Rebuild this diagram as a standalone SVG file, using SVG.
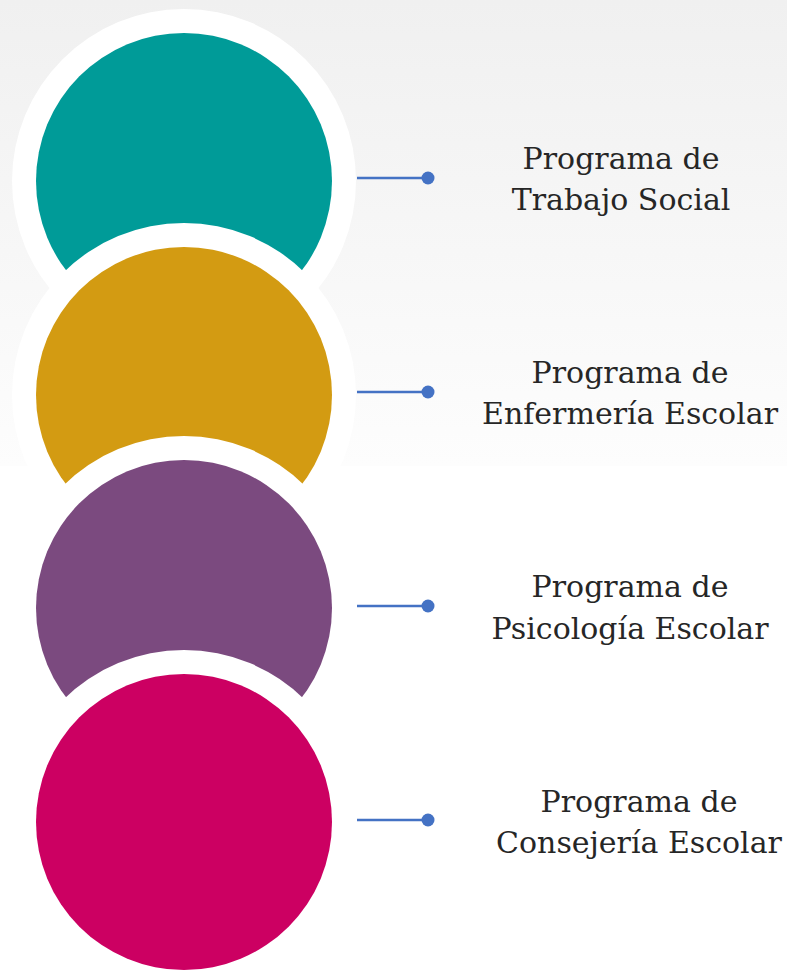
<svg xmlns="http://www.w3.org/2000/svg" width="787" height="971" viewBox="0 0 787 971">
  <defs>
    <linearGradient id="bg" x1="0" y1="0" x2="0" y2="1">
      <stop offset="0" stop-color="#f0f0f0"/>
      <stop offset="1" stop-color="#fdfdfd"/>
    </linearGradient>
    <style>
      .ring { fill: #ffffff; }
      .lbl { font-family: "DejaVu Serif", "Liberation Serif", serif; font-size: 30px; fill: #262626; text-anchor: middle; }
      .conn line { stroke: #4472c4; stroke-width: 2.5; }
      .conn circle { fill: #4472c4; }
    </style>
  </defs>
  <rect x="0" y="0" width="787" height="971" fill="#ffffff"/>
  <rect x="0" y="0" width="787" height="466" fill="url(#bg)"/>

  <g id="node-trabajo-social">
    <circle class="ring" cx="184" cy="181" r="172"/>
    <circle cx="184" cy="181" r="148" fill="#009b98"/>
  </g>
  <g id="node-enfermeria">
    <circle class="ring" cx="184" cy="395" r="172"/>
    <circle cx="184" cy="395" r="148" fill="#d39b12"/>
  </g>
  <g id="node-psicologia">
    <circle class="ring" cx="184" cy="608" r="172"/>
    <circle cx="184" cy="608" r="148" fill="#7b4a7f"/>
  </g>
  <g id="node-consejeria">
    <circle class="ring" cx="184" cy="822" r="172"/>
    <circle cx="184" cy="822" r="148" fill="#cc0062"/>
  </g>

  <g id="connectors" class="conn">
    <line x1="357" y1="178" x2="428" y2="178"/>
    <circle cx="428" cy="178" r="6.5"/>
    <line x1="357" y1="392" x2="428" y2="392"/>
    <circle cx="428" cy="392" r="6.5"/>
    <line x1="357" y1="606" x2="428" y2="606"/>
    <circle cx="428" cy="606" r="6.5"/>
    <line x1="357" y1="820" x2="428" y2="820"/>
    <circle cx="428" cy="820" r="6.5"/>
  </g>

  <g id="label-trabajo-social">
    <text class="lbl" x="621" y="169">Programa de</text>
    <text class="lbl" x="621" y="210">Trabajo Social</text>
  </g>
  <g id="label-enfermeria">
    <text class="lbl" x="630" y="383">Programa de</text>
    <text class="lbl" x="630" y="424">Enfermería Escolar</text>
  </g>
  <g id="label-psicologia">
    <text class="lbl" x="630" y="597">Programa de</text>
    <text class="lbl" x="630" y="639">Psicología Escolar</text>
  </g>
  <g id="label-consejeria">
    <text class="lbl" x="639" y="812">Programa de</text>
    <text class="lbl" x="639" y="853">Consejería Escolar</text>
  </g>
</svg>
